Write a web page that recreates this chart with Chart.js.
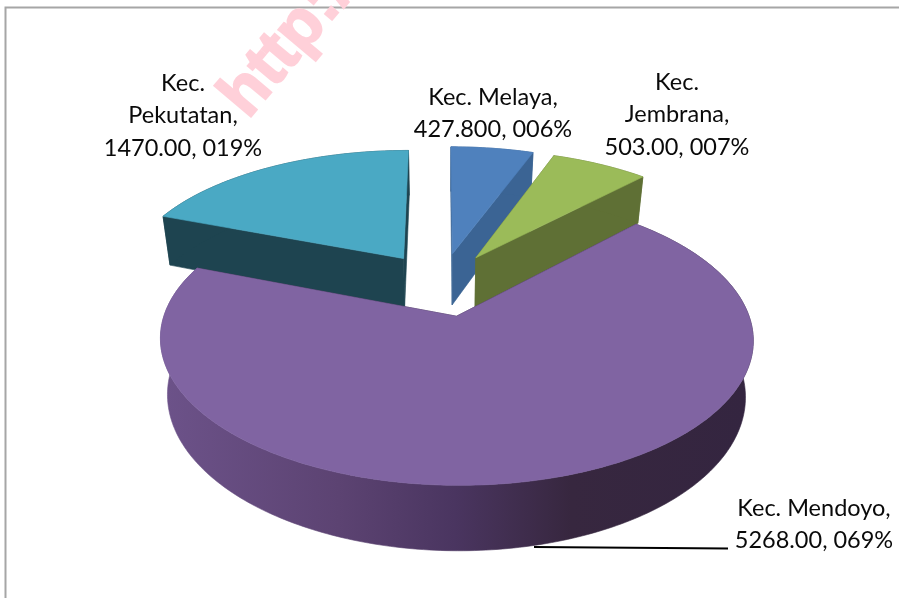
<!DOCTYPE html>
<html><head><meta charset="utf-8">
<style>html,body{margin:0;padding:0;background:#fff}canvas{display:block}</style>
<script src="https://cdn.jsdelivr.net/npm/chart.js@4"></script>
</head><body><canvas id="c" width="899" height="598"></canvas>
<script>
const categories = ["Kec. Melaya","Kec. Jembrana","Kec. Mendoyo","Kec. Pekutatan"];
const values = [427.8,503,5268,1470];
const topColors = ["#4f81bd","#9bbb59","#8064a2","#4aa9c4"];
const sideColors = ["#3b6494","#5f7035","#35263f","#1e4450"];
const labelLines = [
 ["Kec. Melaya,","427.800, 006%"],
 ["Kec.","Jembrana,","503.00, 007%"],
 ["Kec. Mendoyo,","5268.00, 069%"],
 ["Kec.","Pekutatan,","1470.00, 019%"]];
const labelAnchors = [[493,97],[677,82],[814,508],[183,83]];
const K=0.154, TILT=0.468, DEPTH=53, SHRINK=0.025;

function proj(el,cosA,sinA,r,z,ox,oy){
  const R=el.outerRadius, X=r*cosA+ox, Y=-r*sinA+oy, s=1/(1+K*Y);
  return [el.x+R*X*s*(1-SHRINK*z), el.y-R*TILT*Y*s+DEPTH*z*s];
}
function poly(ctx,pts,fill){
  ctx.beginPath();pts.forEach((p,i)=>i?ctx.lineTo(p[0],p[1]):ctx.moveTo(p[0],p[1]));
  ctx.closePath();ctx.fillStyle=fill;ctx.fill();ctx.strokeStyle=fill;ctx.lineWidth=0.6;ctx.stroke();
}
const pie3d={id:'pie3d',
 beforeDatasetsDraw(chart){
  const ctx=chart.ctx, arcs=chart.getDatasetMeta(0).data;
  [3,0,1,2].forEach(i=>{
    const el=arcs[i], a0=el.startAngle, a1=el.endAngle, mid=(a0+a1)/2;
    const off=(el.options.offset||0)/2/el.outerRadius;
    const ox=off*Math.cos(mid), oy=-off*Math.sin(mid);
    const N=Math.max(12,Math.round((a1-a0)*60)), up=[],dn=[];
    for(let j=0;j<=N;j++){
      const a=a0+(a1-a0)*j/N;
      up.push(proj(el,Math.cos(a),Math.sin(a),1,0,ox,oy));
      dn.push(proj(el,Math.cos(a),Math.sin(a),1,1,ox,oy));
    }
    const t0=proj(el,1,0,0,0,ox,oy), t1=proj(el,1,0,0,1,ox,oy);
    poly(ctx,[t0,up[0],dn[0],t1],sideColors[i]);
    poly(ctx,[t0,up[N],dn[N],t1],sideColors[i]);
    let wall=sideColors[i];
    if(i===2){
      const g=ctx.createLinearGradient(165,0,745,0);
      g.addColorStop(0,"#6c5289");g.addColorStop(0.3,"#5c4372");g.addColorStop(0.5,"#4a3560");
      g.addColorStop(0.7,"#37273f");g.addColorStop(1,"#342540");
      wall=g;
    }
    poly(ctx,up.concat(dn.slice().reverse()),wall);
    poly(ctx,[t0].concat(up),el.options.backgroundColor);
  });
  return false;
 },
 afterDraw(chart){
  const ctx=chart.ctx;
  ctx.save();
  ctx.strokeStyle="#a6a6a6";ctx.lineWidth=2;
  ctx.beginPath();ctx.moveTo(5.5,598);ctx.lineTo(5.5,7.5);ctx.lineTo(899,7.5);ctx.stroke();
  ctx.save();
  ctx.translate(248,120);ctx.rotate(-50*Math.PI/180);
  ctx.font="bold 66px 'Liberation Sans'";ctx.fillStyle="#ffd0d9";ctx.strokeStyle="#ffd0d9";ctx.lineWidth=2;
  ctx.textAlign="left";ctx.textBaseline="alphabetic";
  ctx.fillText("http://",0,0);ctx.strokeText("http://",0,0);
  ctx.restore();
  ctx.strokeStyle="#000";ctx.lineWidth=2;
  ctx.beginPath();ctx.moveTo(534,547);ctx.lineTo(728,548.5);ctx.stroke();
  ctx.font="23.5px Lato";ctx.fillStyle="#0a0a0a";ctx.textAlign="center";ctx.textBaseline="middle";
  labelLines.forEach((ls,i)=>ls.forEach((t,j)=>ctx.fillText(t,labelAnchors[i][0],labelAnchors[i][1]+j*32.5)));
  ctx.restore();
 }};
new Chart(document.getElementById('c'),{
 type:'pie',
 data:{labels:categories,datasets:[{data:values,backgroundColor:topColors,borderWidth:0,offset:136}]},
 options:{responsive:false,animation:false,radius:282,
  layout:{padding:{right:17,bottom:30}},
  plugins:{legend:{display:false},tooltip:{enabled:false}}},
 plugins:[pie3d]
});
</script></body></html>
